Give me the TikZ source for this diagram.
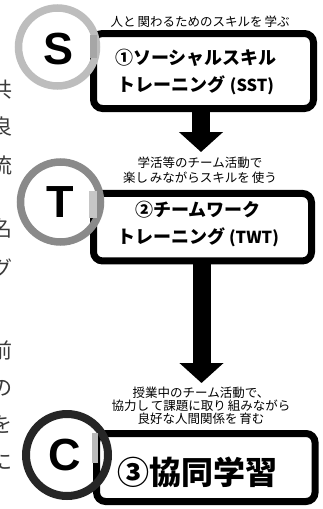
\documentclass[tikz,border=0pt]{standalone}
\usepackage{fontspec}
\newfontfamily\jp{Noto Sans CJK JP}
\newfontfamily\lat{Liberation Sans}
\usetikzlibrary{arrows.meta}
\definecolor{ringS}{HTML}{BDBDBD}
\definecolor{ringT}{HTML}{8A8A8A}
\definecolor{ringC}{HTML}{262626}
\definecolor{frag}{HTML}{3A3A3A}
\begin{document}
\begin{tikzpicture}[x=1pt,y=-1pt,
  stepbox/.style={draw=black, line width=7pt, rounded corners=9pt, inner sep=0pt, fill=white},
  boxtext/.style={font=\jp\bfseries\fontsize{18}{27}\selectfont, align=center, inner sep=0pt},
  lbl/.style={font=\jp\fontsize{12.5}{15}\selectfont, align=center, inner sep=0pt},
  ring/.style={circle, draw, line width=7.5pt, inner sep=0pt},
  letter/.style={font=\lat\bfseries\fontsize{45}{45}\selectfont, inner sep=0pt},
  frg/.style={font=\jp\fontsize{21}{21}\selectfont, text=frag, inner sep=0pt},
  bigarrow/.style={line width=18pt, -{Triangle[width=43pt,length=20pt]}, shorten <=-3pt}
]
\clip (0,0) rectangle (323,509);
\fill[white] (0,0) rectangle (323,509);

% cropped page text on the left
\node[frg] (f1) at (1.5,90) {共};
\node[frg] (f2) at (1.5,127) {良};
\node[frg] (f3) at (1.5,165) {流};
\node[frg] (f4) at (1.5,229) {名};
\node[frg] (f5) at (1.5,268) {グ};
\node[frg] (f6) at (1.5,350) {前};
\node[frg] (f7) at (1.5,388) {の};
\node[frg] (f8) at (1.5,425) {を};
\node[frg] (f9) at (1.5,462) {に};

% boxes
\node[stepbox, minimum width=220pt, minimum height=75pt] (b1) at (203.5,71) {};
\node[stepbox, minimum width=218pt, minimum height=67.5pt] (b2) at (202.5,227.2) {};
\node[stepbox, minimum width=218.5pt, minimum height=68pt] (b3) at (205.8,467.5) {};

% arrows
\coordinate (tip1) at (201,152);
\coordinate (tip2) at (201.5,383);
\draw[bigarrow] (b1.south -| tip1) -- (tip1);
\draw[bigarrow] (b2.south -| tip2) -- (tip2);

% box texts
\node[boxtext] (t1) at (196,71.5) {①ソーシャルスキル\\トレーニング\hspace{4pt}{\fontsize{16.5}{16.5}\selectfont(SST)}};
\node[boxtext] (t2) at (198,224) {②チームワーク\\トレーニング\hspace{4pt}{\fontsize{16.5}{16.5}\selectfont(TWT)}};
\node[boxtext, font=\jp\bfseries\fontsize{32}{32}\selectfont] (t3) at (197.5,472) {③協同学習};

% labels
\node[lbl] (l1) at (200,22) {人と\hspace{2pt}関わるためのスキルを\hspace{2pt}学ぶ};
\node[lbl] (l2) at (200,170.5) {学活等のチーム活動で\\楽し\hspace{2pt}みながらスキルを\hspace{2pt}使う};
\node[lbl, font=\jp\fontsize{12.5}{13}\selectfont] (l3) at (201,406) {授業中のチーム活動で、\\協力し\hspace{2pt}て課題に取り\hspace{2pt}組みながら\\良好な人間関係を\hspace{2pt}育む};

% rings
\node[ring, draw=ringS, minimum size=78pt] (cS) at (57.5,47) {};
\node[ring, draw=ringT, minimum size=80pt] (cT) at (60.5,202) {};
\node[ring, draw=ringC, line width=8pt, minimum size=82pt] (cC) at (67,455) {};

% blended patches where rings cross box borders
\fill[gray!70] (90,35) rectangle (97,58);
\fill[gray!45] (89,191) rectangle (97,218);
\fill[gray!55] (92,433) rectangle (98,463);

% letters
\node[letter] (S) at (59,49) {S};
\node[letter] (T) at (60.5,202) {T};
\node[letter] (C) at (64.5,455) {C};
\end{tikzpicture}
\end{document}
